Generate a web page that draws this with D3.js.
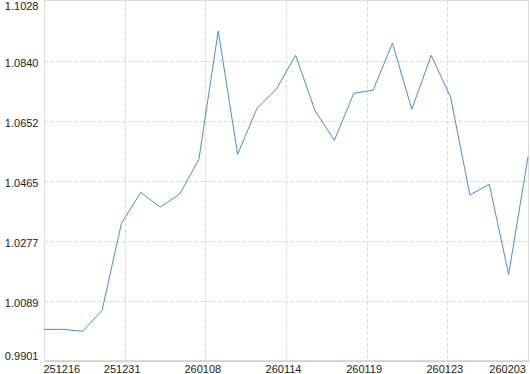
<!DOCTYPE html>
<html>
<head>
<meta charset="utf-8">
<script src="https://cdn.jsdelivr.net/npm/d3@7"></script>
<style>
  html, body { margin: 0; padding: 0; background: #fff; }
  svg { display: block; }
  text { font-family: "Liberation Sans", Arial, sans-serif; font-size: 11px; fill: #222; }
</style>
</head>
<body>
<div id="chart"></div>
<script>
// trading dates (yyMMdd) and values
const dates = [
  "251216", "251219", "251223", "251226", "251231", "260105", "260106",
  "260107", "260108", "260109", "260112", "260113", "260114", "260115",
  "260116", "260117", "260119", "260120", "260121", "260122", "260123",
  "260126", "260128", "260130", "260202", "260203"
];
const values = [
  1.0000, 1.0000, 0.9994, 1.0060, 1.0332, 1.0429, 1.0383,
  1.0423, 1.0532, 1.0934, 1.0548, 1.0692, 1.0752, 1.0858,
  1.0684, 1.0592, 1.0739, 1.0749, 1.0896, 1.0689, 1.0858,
  1.0727, 1.0421, 1.0454, 1.0172, 1.0540
];
const yTicks = [0.9901, 1.0089, 1.0277, 1.0465, 1.0652, 1.0840, 1.1028];
const xTickCount = 6;

const width = 530;
const height = 374;
const plotLeft = 44, plotRight = 528, plotTop = 1, plotBottom = 361;

const svg = d3.select("#chart")
  .append("svg")
  .attr("width", width)
  .attr("height", height);

const xScale = d3.scaleLinear()
  .domain([0, dates.length - 1])
  .range([plotLeft, plotRight]);

const yScale = d3.scaleLinear()
  .domain([yTicks[0], yTicks[yTicks.length - 1]])
  .range([plotBottom, plotTop]);

// x ticks sit at even divisions, label = date at that index
const xTicks = d3.range(xTickCount + 1).map(k => k * (dates.length - 1) / xTickCount);

// grid
svg.append("g")
  .selectAll("line.hgrid")
  .data(yTicks.slice(1, -1))
  .enter()
  .append("line")
  .attr("class", "hgrid")
  .attr("x1", plotLeft).attr("x2", plotRight)
  .attr("y1", d => Math.round(yScale(d)) + 0.5)
  .attr("y2", d => Math.round(yScale(d)) + 0.5)
  .attr("stroke", "#dcdcdc")
  .attr("stroke-dasharray", "4,2");

svg.append("g")
  .selectAll("line.vgrid")
  .data(xTicks.slice(1, -1))
  .enter()
  .append("line")
  .attr("class", "vgrid")
  .attr("x1", d => Math.round(xScale(d)) + 0.5)
  .attr("x2", d => Math.round(xScale(d)) + 0.5)
  .attr("y1", plotTop).attr("y2", plotBottom)
  .attr("stroke", "#dcdcdc")
  .attr("stroke-dasharray", "4,2");

// frame
svg.append("rect")
  .attr("x", plotLeft + 0.5)
  .attr("y", plotTop - 0.5)
  .attr("width", plotRight - plotLeft)
  .attr("height", plotBottom - plotTop)
  .attr("fill", "none")
  .attr("stroke", "#dcdcdc");

svg.append("line")
  .attr("x1", plotLeft).attr("x2", plotRight + 1)
  .attr("y1", plotBottom + 0.5).attr("y2", plotBottom + 0.5)
  .attr("stroke", "#cfcfcf");

// y labels
svg.append("g")
  .selectAll("text.ylab")
  .data(yTicks)
  .enter()
  .append("text")
  .attr("class", "ylab")
  .attr("x", plotLeft - 5.5)
  .attr("y", (d, i) => {
    if (i === 0) return plotBottom - 1;
    if (i === yTicks.length - 1) return plotTop + 8.5;
    return yScale(d) + 6;
  })
  .attr("text-anchor", "end")
  .text(d => d.toFixed(4));

// x labels
svg.append("g")
  .selectAll("text.xlab")
  .data(xTicks)
  .enter()
  .append("text")
  .attr("class", "xlab")
  .attr("x", (d, i) => {
    if (i === 0) return plotLeft - 0.5;
    if (i === xTicks.length - 1) return plotRight - 2;
    return xScale(d) - 2.5;
  })
  .attr("y", 373)
  .attr("text-anchor", (d, i) => i === 0 ? "start" : (i === xTicks.length - 1 ? "end" : "middle"))
  .text(d => dates[Math.floor(d + 1e-9)]);

// the line
const line = d3.line()
  .x((d, i) => xScale(i))
  .y(d => yScale(d));

svg.append("path")
  .datum(values)
  .attr("d", line)
  .attr("fill", "none")
  .attr("stroke", "#4a8be6")
  .attr("stroke-width", 1);
</script>
</body>
</html>
